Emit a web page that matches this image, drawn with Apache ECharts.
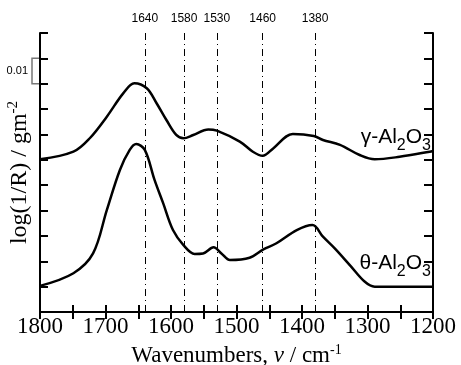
<!DOCTYPE html>
<html><head><meta charset="utf-8">
<script src="https://cdn.jsdelivr.net/npm/echarts@6/dist/echarts.min.js"></script>
<style>html,body{margin:0;padding:0;background:#fff}#c{width:461px;height:365px}</style>
</head><body><div id="c"></div>
<script>
// Data (wavenumber, arbitrary offset units; 1 unit = 0.01 log(1/R))
const gammaX = [1800,1749,1724,1698,1673,1656,1637,1622,1607,1592,1581,1566,1543,1530,1495,1475,1460,1444,1414,1382,1368,1342,1312,1289,1251,1205,1200];
const gammaY = [6.02,6.32,6.85,7.70,8.62,9.02,8.82,8.23,7.57,6.98,6.85,6.98,7.20,7.15,6.72,6.32,6.16,6.45,7.02,6.94,6.78,6.59,6.19,6.02,6.12,6.32,6.35];
const thetaX = [1800,1749,1719,1698,1678,1663,1653,1640,1625,1612,1597,1581,1564,1551,1535,1523,1510,1480,1459,1439,1408,1384,1368,1350,1327,1304,1289,1205,1200];
const thetaY = [1.03,1.53,2.31,4.02,5.60,6.39,6.62,6.39,5.20,4.29,3.23,2.64,2.29,2.31,2.55,2.31,2.05,2.14,2.47,2.71,3.23,3.43,2.97,2.51,1.85,1.19,1.00,1.00,1.00];
const bandLines = [1640,1580,1530,1460,1380];
const xTicks = [1800,1700,1600,1500,1400,1300,1200];
const seriesNames = ['γ-Al2O3','θ-Al2O3'];
const scaleBarLabel = '0.01';

const zip = (xs, ys) => xs.map((x, i) => [x, ys[i]]);
const chart = echarts.init(document.getElementById('c'));
const serif = 'Liberation Serif';
const sans = 'Liberation Sans';
const commonX = {type:'value', min:1200, max:1800, inverse:true, interval:50,
  splitLine:{show:false}, axisLine:{lineStyle:{color:'#000', width:2}}};
chart.setOption({
  animation:false,
  grid:{left:40, right:28, top:33, bottom:53, outerBoundsMode:'none', containLabel:false},
  xAxis:[
    Object.assign({}, commonX, {position:'bottom',
      axisTick:{inside:true, length:7, lineStyle:{color:'#000', width:2}},
      axisLabel:{fontFamily:serif, fontSize:23, color:'#000', margin:3, hideOverlap:false,
        formatter: v => xTicks.includes(v) ? String(v) : ''},
      name:'{t|Wavenumbers, }{i|ν}{t| / cm}{s|-1}', nameLocation:'middle', nameGap:27,
      nameTextStyle:{rich:{
        t:{fontFamily:serif, fontSize:23, color:'#000', verticalAlign:'bottom'},
        i:{fontFamily:serif, fontSize:23, fontStyle:'italic', color:'#000', verticalAlign:'bottom'},
        s:{fontFamily:serif, fontSize:14, color:'#000', verticalAlign:'bottom', padding:[0,0,11,0]}}}}),
    Object.assign({}, commonX, {position:'top',
      axisTick:{inside:true, length:7, lineStyle:{color:'#000', width:2}},
      axisLabel:{show:false}})
  ],
  yAxis:[
    {type:'value', min:0, max:11, interval:1, position:'left',
     splitLine:{show:false}, axisLine:{lineStyle:{color:'#000', width:2}},
     axisTick:{inside:true, length:8, lineStyle:{color:'#000', width:2}}, axisLabel:{show:false},
     name:'{t|log(1/R) / gm}{s|-2}', nameLocation:'middle', nameGap:8, nameRotate:90,
     nameTextStyle:{rich:{
       t:{fontFamily:serif, fontSize:24, color:'#000', verticalAlign:'bottom'},
       s:{fontFamily:serif, fontSize:15, color:'#000', verticalAlign:'bottom', padding:[0,0,11,0]}}}},
    {type:'value', min:0, max:11, interval:1, position:'right',
     splitLine:{show:false}, axisLine:{lineStyle:{color:'#000', width:2}},
     axisTick:{inside:true, length:9, lineStyle:{color:'#000', width:2}}, axisLabel:{show:false}}
  ],
  series:[
    {name:seriesNames[0], type:'line', data:zip(gammaX, gammaY), smooth:0.35, symbol:'none',
     lineStyle:{color:'#000', width:2.5},
     markLine:{silent:true, symbol:['none','none'], animation:false,
       lineStyle:{color:'#000', width:1, type:[7,4,1,4]},
       label:{show:true, position:'end', distance:8, fontFamily:sans, fontSize:12, color:'#000', formatter:p => String(p.value)},
       data: bandLines.map(v => ({xAxis:v}))}},
    {name:seriesNames[1], type:'line', data:zip(thetaX, thetaY), smooth:0.35, symbol:'none',
     lineStyle:{color:'#000', width:2.5}}
  ]
});

function rich(name){
  const m = name.match(/^(.*Al)(\d)(O)(\d)$/);
  return '{a|'+m[1]+'}{s|'+m[2]+'}{a|'+m[3]+'}{s|'+m[4]+'}';
}
const richStyle = {
  a:{fontFamily:sans, fontSize:21, color:'#000', verticalAlign:'bottom', lineHeight:22},
  s:{fontFamily:sans, fontSize:16, color:'#000', verticalAlign:'bottom', lineHeight:22, padding:[0,0,-6,0]}
};
const gPos = chart.convertToPixel({gridIndex:0}, [1200, 6.9]);
const tPos = chart.convertToPixel({gridIndex:0}, [1200, 1.95]);
const b1 = chart.convertToPixel({gridIndex:0}, [1800, 10]);
const b0 = chart.convertToPixel({gridIndex:0}, [1800, 9]);
chart.setOption({graphic:[
  {type:'text', x:gPos[0]-2, y:gPos[1], z:10, style:{text:rich(seriesNames[0]), rich:richStyle, align:'right', verticalAlign:'middle'}},
  {type:'text', x:tPos[0]-2, y:tPos[1], z:10, style:{text:rich(seriesNames[1]), rich:richStyle, align:'right', verticalAlign:'middle'}},
  {type:'polyline', shape:{points:[[b1[0]-1,b1[1]],[b1[0]-8,b1[1]],[b0[0]-8,b0[1]],[b0[0]-1,b0[1]]]},
   style:{stroke:'#777', lineWidth:1.5, fill:null}},
  {type:'text', x:b1[0]-12, y:(b1[1]+b0[1])/2, style:{text:scaleBarLabel, fontFamily:sans, fontSize:11, fill:'#000', align:'right', verticalAlign:'middle'}}
]});
</script></body></html>
